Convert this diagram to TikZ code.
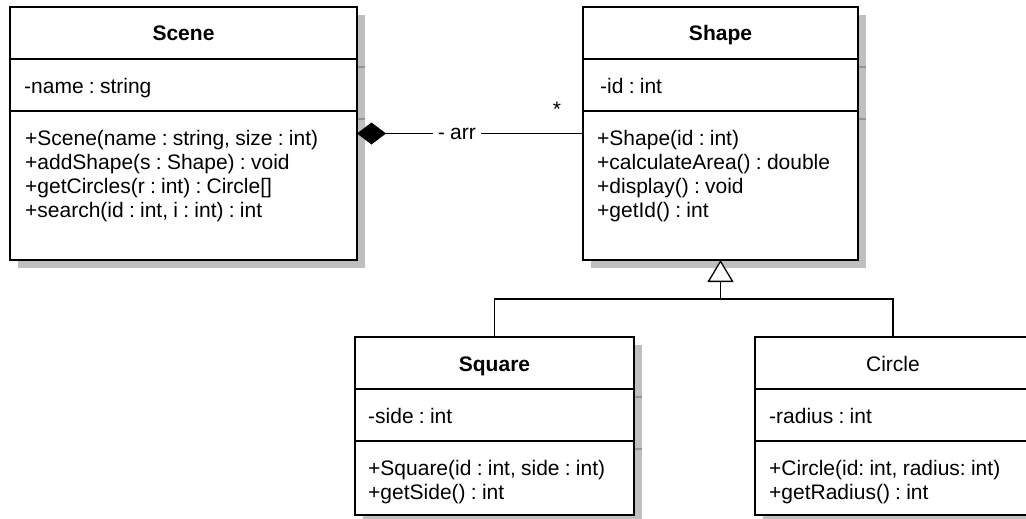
\documentclass[tikz,border=0pt]{standalone}
\usepackage{fontspec}
\setmainfont{Liberation Sans}
\usetikzlibrary{arrows.meta}
\frenchspacing
\newcommand{\umlfont}{\fontsize{21}{24.3}\selectfont\spaceskip=0.25em\relax}
% #1 name, #2 left, #3 top, #4 right, #5 bottom (pixels, y downwards)
\newcommand{\umlclass}[5]{%
  \fill[shadowfill] (#2+8,-#3-8) rectangle (#4+8,-#5-8);
  \draw[shadowline] (#2+8,-#3-60) -- (#4+8,-#3-60);
  \draw[shadowline] (#2+8,-#3-112) -- (#4+8,-#3-112);
  \node[classbox, minimum width=#4-#2, minimum height=#5-#3] (#1) at (#2,-#3) {};
  \draw[sepline] (#2,-#3-52) -- (#4,-#3-52);
  \draw[sepline] (#2,-#3-104) -- (#4,-#3-104);
}
\begin{document}
\begin{tikzpicture}[x=1pt,y=1pt,
  classbox/.style={rectangle, draw=black, line width=2.6pt, fill=white, inner sep=0pt, outer sep=0pt, anchor=north west},
  sepline/.style={line width=2.6pt},
  shadowfill/.style={fill=black!25},
  shadowline/.style={draw=black!42, line width=1.4pt},
  classtitle/.style={anchor=base, inner sep=0pt, font=\umlfont\bfseries},
  classtitleplain/.style={anchor=base, inner sep=0pt, font=\umlfont},
  member/.style={anchor=base west, inner sep=0pt, font=\umlfont},
  conn/.style={line width=1.3pt},
  lbl/.style={fill=white, inner xsep=5pt, inner ysep=1pt, font=\umlfont},
]
\useasboundingbox (0,0) rectangle (1026,-519);
\fill[white] (0,0) rectangle (1026,-519);

% classes
\umlclass{scene}{10}{7}{357}{260}
\umlclass{shape}{583}{7}{858}{260}
\umlclass{square}{355}{337}{634}{515}
\umlclass{circle}{755}{337}{1031}{515}

% Scene
\node[classtitle] (scene-t) at (183.5,-41) {Scene};
\node[member] (scene-a1) at (24,-93) {-name : string};
\node[member] (scene-m1) at (25,-145) {+Scene(name : string, size : int)};
\node[member] (scene-m2) at (25,-169.3) {+addShape(s : Shape) : void};
\node[member] (scene-m3) at (25,-193.6) {+getCircles(r : int) : Circle[]};
\node[member] (scene-m4) at (25,-217.9) {+search(id : int, i : int) : int};

% Shape
\node[classtitle] (shape-t) at (720.5,-41) {Shape};
\node[member] (shape-a1) at (600,-93) {-id : int};
\node[member] (shape-m1) at (597,-145) {+Shape(id : int)};
\node[member] (shape-m2) at (597,-169.3) {+calculateArea() : double};
\node[member] (shape-m3) at (597,-193.6) {+display() : void};
\node[member] (shape-m4) at (597,-217.9) {+getId() : int};

% Square
\node[classtitle] (square-t) at (494.5,-371) {Square};
\node[member] (square-a1) at (368,-423) {-side : int};
\node[member] (square-m1) at (368,-475) {+Square(id : int, side : int)};
\node[member] (square-m2) at (368,-499.3) {+getSide() : int};

% Circle
\node[classtitleplain] (circle-t) at (893,-371) {Circle};
\node[member] (circle-a1) at (769,-423) {-radius : int};
\node[member] (circle-m1) at (769,-475) {+Circle(id: int, radius: int)};
\node[member] (circle-m2) at (769,-499.3) {+getRadius() : int};

% composition
\draw[conn, {Diamond[length=29pt,width=22pt,fill=black]}-] (scene.east) -- node[lbl, pos=0.442] (arr) {- arr} (shape.west);
\node[member, anchor=base] (mult) at (557,-116) {*};

% generalization
\coordinate (junc) at (720.5,-299);
\draw[conn] (square.north) |- (junc) -| (circle.north);
\draw[conn, -{Triangle[open, length=22pt, width=26pt, fill=white]}] (junc) -- (shape.south);
\end{tikzpicture}
\end{document}
